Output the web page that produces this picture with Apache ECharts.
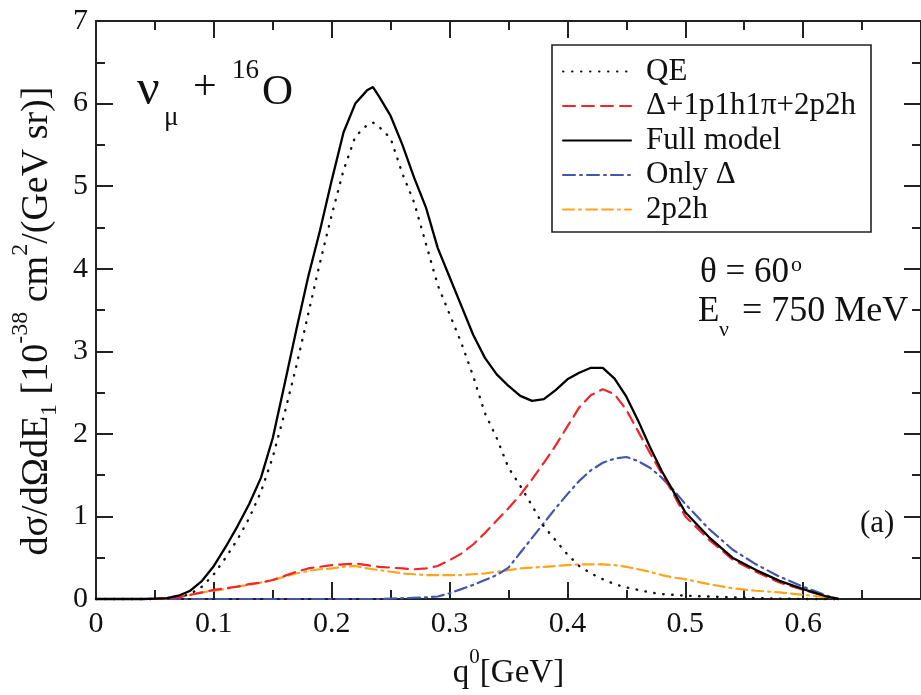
<!DOCTYPE html>
<html>
<head>
<meta charset="utf-8">
<script src="https://cdn.jsdelivr.net/npm/echarts@6/dist/echarts.min.js"></script>
<style>
html,body{margin:0;padding:0;background:#fff;}
#chart{width:921px;height:695px;}
</style>
</head>
<body>
<div id="chart"></div>
<script>
// ---- data ----
const q = [0, 0.02, 0.04, 0.05, 0.06, 0.07, 0.08, 0.09,
  0.10, 0.11, 0.12, 0.13, 0.14, 0.15, 0.16, 0.17, 0.18, 0.19,
  0.20, 0.21, 0.22, 0.23, 0.235, 0.24, 0.25, 0.26, 0.27, 0.28, 0.29,
  0.30, 0.31, 0.32, 0.33, 0.34, 0.35, 0.36, 0.37, 0.38, 0.39,
  0.40, 0.41, 0.42, 0.43, 0.44, 0.45, 0.46, 0.47, 0.48, 0.49,
  0.50, 0.52, 0.54, 0.56, 0.58, 0.60, 0.62, 0.63];

const qeValues = [0, 0, 0, 0, 0.005, 0.02, 0.06, 0.15,
  0.3, 0.5, 0.72, 0.98, 1.3, 1.72, 2.25, 2.82, 3.45, 4.07,
  4.65, 5.19, 5.6, 5.74, 5.77, 5.72, 5.58, 5.15, 4.8, 4.3, 3.8,
  3.45, 3.1, 2.7, 2.25, 1.95, 1.59, 1.37, 1.13, 0.88, 0.71,
  0.54, 0.4, 0.31, 0.24, 0.18, 0.14, 0.11, 0.08, 0.06, 0.05,
  0.04, 0.03, 0.02, 0.01, 0.005, 0, 0, 0];

const deltaPionMecValues = [0, 0, 0, 0, 0.005, 0.02, 0.05, 0.08,
  0.11, 0.13, 0.15, 0.18, 0.2, 0.23, 0.28, 0.33, 0.37, 0.39,
  0.41, 0.42, 0.43, 0.41, 0.40, 0.39, 0.38, 0.37, 0.36, 0.37, 0.40,
  0.47, 0.55, 0.66, 0.8, 0.95, 1.1, 1.26, 1.45, 1.65, 1.86,
  2.09, 2.32, 2.47, 2.54, 2.48, 2.29, 2.03, 1.77, 1.52, 1.27,
  1.0, 0.72, 0.48, 0.33, 0.2, 0.11, 0.03, 0];

const fullValues = [0, 0, 0, 0.005, 0.01, 0.04, 0.1, 0.22,
  0.40, 0.63, 0.88, 1.15, 1.47, 1.95, 2.6, 3.26, 3.9, 4.46,
  5.07, 5.65, 6.0, 6.16, 6.2, 6.09, 5.85, 5.5, 5.1, 4.74, 4.25,
  3.9, 3.55, 3.2, 2.92, 2.72, 2.58, 2.46, 2.40, 2.42, 2.53,
  2.66, 2.74, 2.80, 2.80, 2.67, 2.45, 2.16, 1.84, 1.55, 1.3,
  1.05, 0.75, 0.5, 0.35, 0.22, 0.12, 0.03, 0];

const onlyDeltaValues = [0, 0, 0, 0, 0, 0, 0, 0,
  0, 0, 0, 0, 0, 0, 0, 0, 0, 0,
  0, 0, 0, 0, 0, 0, 0.005, 0.01, 0.015, 0.02, 0.03,
  0.07, 0.12, 0.17, 0.23, 0.29, 0.38, 0.56, 0.74, 0.92, 1.1,
  1.27, 1.43, 1.56, 1.65, 1.7, 1.72, 1.67, 1.59, 1.47, 1.32,
  1.15, 0.85, 0.6, 0.42, 0.27, 0.15, 0.04, 0];

const mecValues = [0, 0, 0, 0, 0.005, 0.02, 0.05, 0.08,
  0.1, 0.12, 0.15, 0.17, 0.2, 0.23, 0.27, 0.31, 0.34, 0.36,
  0.37, 0.39, 0.4, 0.37, 0.36, 0.35, 0.33, 0.31, 0.3, 0.29, 0.29,
  0.29, 0.29, 0.3, 0.31, 0.33, 0.35, 0.37, 0.38, 0.39, 0.4,
  0.41, 0.42, 0.42, 0.42, 0.41, 0.39, 0.36, 0.33, 0.29, 0.26,
  0.24, 0.18, 0.13, 0.1, 0.08, 0.05, 0.02, 0];

const seriesNames = ['QE', '\u0394+1p1h1\u03c0+2p2h', 'Full model', 'Only \u0394', '2p2h'];
const xTicks = { min: 0, max: 0.7, interval: 0.1 };
const yTicks = { min: 0, max: 7, interval: 1 };

// ---- chart ----
const FF = '"Liberation Serif", "Times New Roman", serif';
const INK = '#111';
const pairs = vals => q.map((x, i) => [x, vals[i]]);

const axisCommon = {
  axisLine: { show: true, onZero: false, lineStyle: { color: '#222', width: 2 } },
  axisTick: { show: true, inside: true, length: 17, lineStyle: { color: '#222', width: 2 } },
  minorTick: { show: true, splitNumber: 2, length: 9, lineStyle: { color: '#222', width: 2 } },
  splitLine: { show: false },
  minorSplitLine: { show: false }
};

function lineSeries(name, vals, color, width, type, z) {
  return {
    name, type: 'line', data: pairs(vals), symbol: 'none', smooth: false, clip: false,
    xAxisIndex: 0, yAxisIndex: 0, z: z,
    lineStyle: { color, width, type, cap: 'round' },
    itemStyle: { color }
  };
}

const option = {
  animation: false,
  backgroundColor: '#fff',
  grid: { left: 96, top: 21, right: -8, bottom: 93, containLabel: false },
  xAxis: [
    Object.assign({
      type: 'value', position: 'bottom', min: xTicks.min, max: xTicks.max, interval: xTicks.interval,
      axisLabel: { show: true, margin: 10, fontSize: 30, fontFamily: FF, color: INK, showMaxLabel: false },
      name: '{a|q}{u|0}{a|[GeV]}', nameLocation: 'middle', nameGap: 48,
      nameTextStyle: { rich: {
        a: { fontSize: 33, fontFamily: FF, color: INK, verticalAlign: 'middle' },
        u: { fontSize: 21, fontFamily: FF, color: INK, verticalAlign: 'middle', padding: [0, 0, 32, 0] }
      } }
    }, axisCommon),
    Object.assign({
      type: 'value', position: 'top', min: xTicks.min, max: xTicks.max, interval: xTicks.interval,
      axisLabel: { show: false }
    }, axisCommon)
  ],
  yAxis: [
    Object.assign({
      type: 'value', position: 'left', min: yTicks.min, max: yTicks.max, interval: yTicks.interval,
      axisLabel: { show: true, margin: 8, fontSize: 30, fontFamily: FF, color: INK },
      name: '{a|d\u03c3/d\u03a9dE}{s|1}{a| [10}{u|-38}{a| cm}{u|2}{a|/(GeV sr)]}',
      nameLocation: 'middle', nameGap: 27,
      nameTextStyle: { padding: [0, 22, 0, 0], rich: {
        a: { fontSize: 38, fontFamily: FF, color: INK, verticalAlign: 'middle' },
        s: { fontSize: 24, fontFamily: FF, color: INK, verticalAlign: 'middle', padding: [26, 0, 0, 0] },
        u: { fontSize: 24, fontFamily: FF, color: INK, verticalAlign: 'middle', padding: [0, 0, 32, 0] }
      } }
    }, axisCommon),
    Object.assign({
      type: 'value', position: 'right', min: yTicks.min, max: yTicks.max, interval: yTicks.interval,
      axisLabel: { show: false }
    }, axisCommon)
  ],
  legend: {
    show: true, orient: 'vertical', left: 552, top: 45,
    padding: [11, 0, 0, 10], itemWidth: 68, itemHeight: 24, itemGap: 3.5,
    data: seriesNames,
    itemStyle: { color: 'rgba(0,0,0,0)', borderColor: 'rgba(0,0,0,0)', borderWidth: 0, opacity: 0 },
    textStyle: { fontSize: 31, fontFamily: FF, color: INK, padding: [0, 0, 0, 10] },
    selectedMode: false
  },
  graphic: [
    { type: 'rect', shape: { x: 552, y: 45, width: 319, height: 187 }, style: { fill: 'none', stroke: '#222', lineWidth: 1.6 }, z: 100, silent: true },
    { type: 'text', x: 137, y: 91, style: { text: '\u03bd', fontSize: 50, fontFamily: FF, fill: INK, textAlign: 'left', verticalAlign: 'middle' } },
    { type: 'text', x: 164, y: 118, style: { text: '\u03bc', fontSize: 27, fontFamily: FF, fill: INK, textAlign: 'left', verticalAlign: 'middle' } },
    { type: 'text', x: 193, y: 88, style: { text: '+', fontSize: 42, fontFamily: FF, fill: INK, textAlign: 'left', verticalAlign: 'middle' } },
    { type: 'text', x: 232, y: 71, style: { text: '16', fontSize: 27, fontFamily: FF, fill: INK, textAlign: 'left', verticalAlign: 'middle' } },
    { type: 'text', x: 262, y: 93, style: { text: 'O', fontSize: 43, fontFamily: FF, fill: INK, textAlign: 'left', verticalAlign: 'middle' } },
    { type: 'text', x: 700, y: 273, style: { text: '\u03b8 = 60', fontSize: 35, fontFamily: FF, fill: INK, textAlign: 'left', verticalAlign: 'middle' } },
    { type: 'text', x: 791, y: 265, style: { text: 'o', fontSize: 22, fontFamily: FF, fill: INK, textAlign: 'left', verticalAlign: 'middle' } },
    { type: 'text', x: 698, y: 312, style: { text: 'E', fontSize: 35, fontFamily: FF, fill: INK, textAlign: 'left', verticalAlign: 'middle' } },
    { type: 'text', x: 719, y: 330, style: { text: '\u03bd', fontSize: 22, fontFamily: FF, fill: INK, textAlign: 'left', verticalAlign: 'middle' } },
    { type: 'text', x: 742, y: 312, style: { text: '= 750 MeV', fontSize: 36, fontFamily: FF, fill: INK, textAlign: 'left', verticalAlign: 'middle' } },
    { type: 'text', x: 860, y: 524, style: { text: '(a)', fontSize: 31, fontFamily: FF, fill: INK, textAlign: 'left', verticalAlign: 'middle' } }
  ],
  series: [
    lineSeries(seriesNames[0], qeValues, '#111', 2.4, [0.5, 8.5], 3),
    lineSeries(seriesNames[1], deltaPionMecValues, '#f0262a', 2.2, [12, 7], 4),
    lineSeries(seriesNames[2], fullValues, '#000', 2.3, 'solid', 6),
    lineSeries(seriesNames[3], onlyDeltaValues, '#4455b0', 2.2, [12, 5, 2, 5], 2),
    lineSeries(seriesNames[4], mecValues, '#ffa41b', 2.2, [11, 5, 2, 5, 11, 5], 1)
  ]
};

const chart = echarts.init(document.getElementById('chart'), null, { renderer: 'canvas' });
chart.setOption(option);
</script>
</body>
</html>
